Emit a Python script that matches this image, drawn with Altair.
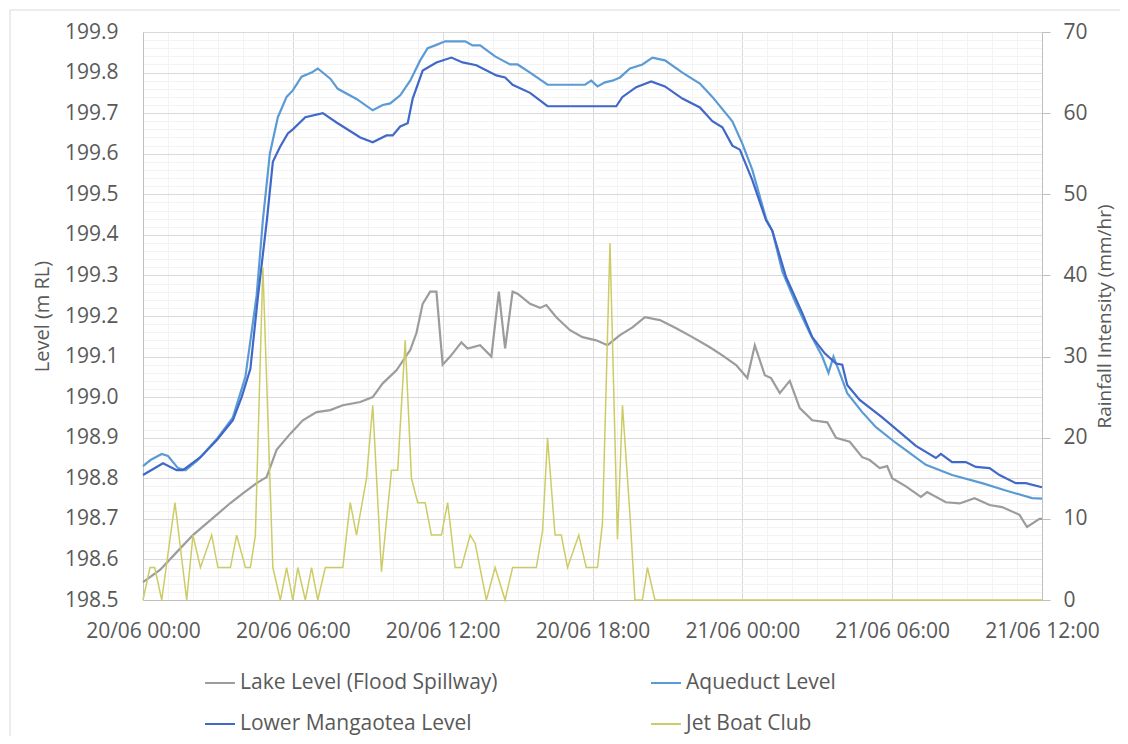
import altair as alt
import pandas as pd

# ---------------- data (hours since 20/06 00:00) ----------------
SERIES = ["Lake Level (Flood Spillway)", "Lower Mangaotea Level", "Aqueduct Level", "Jet Boat Club"]
COLORS = ["#9c9c9c", "#4068c8", "#5b9bd5", "#cccc66"]

X_LABELS = ["20/06 00:00", "20/06 06:00", "20/06 12:00", "20/06 18:00",
            "21/06 00:00", "21/06 06:00", "21/06 12:00"]

aq_t = [0, 0.3, 0.75, 1.0, 1.4, 1.7, 2.2, 3.0, 3.6, 4.1, 4.55, 4.8, 5.08, 5.4, 5.75, 6.0, 6.35,
        6.75, 7.0, 7.5, 7.8, 8.55, 9.2, 9.6, 9.9, 10.3, 10.7, 11.1, 11.4, 11.7, 12.1, 12.9, 13.2,
        13.5, 14.1, 14.7, 15.0, 15.5, 16.2, 17.7, 17.95, 18.2, 18.5, 18.8, 19.1, 19.5, 20.0, 20.4,
        20.9, 21.6, 22.3, 22.8, 23.6, 24.0, 24.4, 24.95, 25.2, 25.6, 26.15, 26.7, 27.2, 27.45,
        27.65, 27.9, 28.2, 28.8, 29.35, 30.15, 31.35, 32.4, 33.6, 34.55, 35.6, 36.0]
aq_v = [198.83, 198.845, 198.86, 198.855, 198.825, 198.82, 198.845, 198.90, 198.95, 199.05,
        199.25, 199.436, 199.60, 199.69, 199.74, 199.756, 199.79, 199.80, 199.81, 199.785, 199.76,
        199.735, 199.707, 199.72, 199.724, 199.744, 199.78, 199.83, 199.86, 199.867, 199.877,
        199.877, 199.867, 199.867, 199.84, 199.82, 199.82, 199.80, 199.77, 199.77, 199.78, 199.766,
        199.776, 199.78, 199.788, 199.81, 199.82, 199.837, 199.83, 199.80, 199.773, 199.74, 199.68,
        199.625, 199.56, 199.44, 199.41, 199.31, 199.23, 199.158, 199.10, 199.06, 199.10, 199.06,
        199.01, 198.963, 198.926, 198.887, 198.833, 198.808, 198.788, 198.77, 198.751, 198.75]

lm_t = [0, 0.8, 1.35, 1.6, 2.3, 2.95, 3.6, 3.95, 4.3, 4.6, 4.96, 5.2, 5.48, 5.8, 6.0, 6.5, 7.2,
        7.75, 8.7, 9.2, 9.75, 10.0, 10.3, 10.6, 10.8, 11.2, 11.75, 12.35, 12.8, 13.35, 14.15, 14.5,
        14.8, 15.5, 16.2, 18.95, 19.2, 19.75, 20.35, 20.9, 21.6, 22.3, 22.8, 23.2, 23.6, 23.9, 24.4,
        24.95, 25.2, 25.75, 26.4, 26.8, 27.3, 27.75, 28.0, 28.2, 28.7, 29.6, 30.3, 30.95, 31.75,
        31.95, 32.4, 32.95, 33.35, 33.9, 34.3, 34.95, 35.35, 36.0]
lm_v = [198.808, 198.837, 198.82, 198.82, 198.852, 198.894, 198.943, 199.0, 199.07, 199.246,
        199.436, 199.58, 199.616, 199.65, 199.66, 199.69, 199.70, 199.677, 199.64, 199.628, 199.645,
        199.645, 199.667, 199.675, 199.736, 199.805, 199.825, 199.837, 199.825, 199.818, 199.793,
        199.788, 199.77, 199.75, 199.717, 199.717, 199.74, 199.764, 199.778, 199.766, 199.736,
        199.714, 199.68, 199.665, 199.62, 199.61, 199.535, 199.436, 199.41, 199.296, 199.207,
        199.148, 199.108, 199.083, 199.08, 199.03, 198.993, 198.95, 198.914, 198.88, 198.85, 198.86,
        198.84, 198.84, 198.828, 198.825, 198.808, 198.788, 198.788, 198.778]

lk_t = [0, 0.68, 1.35, 2.0, 2.7, 3.5, 4.0, 4.55, 4.95, 5.35, 5.9, 6.4, 6.95, 7.5, 8.0, 8.7, 9.2,
        9.6, 10.15, 10.7, 10.95, 11.2, 11.5, 11.75, 12.0, 12.3, 12.75, 13.0, 13.5, 13.95, 14.25,
        14.5, 14.8, 15.0, 15.5, 15.9, 16.15, 16.55, 17.1, 17.6, 18.15, 18.6, 19.1, 19.6, 20.1, 20.7,
        21.35, 22.0, 22.7, 23.2, 23.75, 24.2, 24.5, 24.9, 25.15, 25.5, 25.9, 26.3, 26.8, 27.4,
        27.75, 28.3, 28.8, 29.1, 29.5, 29.8, 30.0, 30.55, 31.15, 31.4, 32.15, 32.7, 33.3, 33.9,
        34.4, 35.1, 35.4, 35.9, 36.0]
lk_v = [198.544, 198.574, 198.618, 198.66, 198.697, 198.739, 198.763, 198.788, 198.803, 198.87,
        198.91, 198.943, 198.963, 198.968, 198.98, 198.988, 199.0, 199.034, 199.066, 199.116,
        199.158, 199.23, 199.26, 199.26, 199.08, 199.10, 199.135, 199.12, 199.128, 199.10, 199.26,
        199.12, 199.26, 199.255, 199.23, 199.22, 199.227, 199.197, 199.165, 199.148, 199.14,
        199.128, 199.153, 199.172, 199.197, 199.19, 199.17, 199.148, 199.123, 199.103, 199.079,
        199.047, 199.128, 199.054, 199.047, 199.01, 199.04, 198.973, 198.943, 198.938, 198.90,
        198.89, 198.852, 198.845, 198.825, 198.83, 198.80, 198.78, 198.754, 198.766, 198.741,
        198.738, 198.751, 198.734, 198.729, 198.71, 198.68, 198.70, 198.70]

rain_t = [0, 0.28, 0.47, 0.75, 1.28, 1.75, 2.0, 2.3, 2.75, 3.0, 3.5, 3.75, 4.1, 4.3, 4.5, 4.8,
          5.2, 5.5, 5.75, 6.0, 6.2, 6.5, 6.75, 7.0, 7.3, 8.0, 8.3, 8.55, 8.95, 9.2, 9.55, 9.95,
          10.2, 10.5, 10.75, 11.0, 11.3, 11.55, 11.95, 12.2, 12.5, 12.75, 13.1, 13.3, 13.75, 14.1,
          14.5, 14.8, 15.75, 16.0, 16.2, 16.5, 16.75, 17.0, 17.45, 17.75, 18.2, 18.4, 18.7, 19.0,
          19.2, 19.5, 19.7, 20.0, 20.2, 20.5, 36.0]
rain_v = [0, 4, 4, 0, 12, 0, 8, 4, 8, 4, 4, 8, 4, 4, 8, 41, 4, 0, 4, 0, 4, 0, 4, 0, 4, 4, 12, 8,
          15, 24, 3.5, 16, 16, 32, 15, 12, 12, 8, 8, 12, 4, 4, 8, 7, 0, 4, 0, 4, 4, 8.5, 20, 8, 8,
          4, 8, 4, 4, 9.5, 44, 7.5, 24, 10.5, 0, 0, 4, 0, 0]

level_df = pd.concat([
    pd.DataFrame({"t": lk_t, "value": lk_v, "series": "Lake Level (Flood Spillway)"}),
    pd.DataFrame({"t": aq_t, "value": aq_v, "series": "Aqueduct Level"}),
    pd.DataFrame({"t": lm_t, "value": lm_v, "series": "Lower Mangaotea Level"}),
], ignore_index=True)
rain_df = pd.DataFrame({"t": rain_t, "value": rain_v, "series": "Jet Boat Club"})

# ---------------- styling ----------------
TXT = "#595959"
FONT = "Open Sans"
major_y = "abs(datum.value*10 - round(datum.value*10)) < 0.001"
label_arr = "[" + ",".join("'%s'" % s for s in X_LABELS) + "]"

x_enc = alt.X(
    "t:Q",
    scale=alt.Scale(domain=[0, 36], nice=False, zero=False),
    axis=alt.Axis(
        values=list(range(0, 37)),
        labelExpr="datum.value % 6 == 0 ? " + label_arr + "[datum.value/6] : ''",
        title=None, grid=True,
        gridColor={"condition": {"test": "datum.value % 6 == 0", "value": "#d9d9d9"}, "value": "#f3f3f3"},
        ticks=False, tickSize=0, domainColor="#bfbfbf", labelPadding=20,
        labelOverlap=False, labelFlush=False, labelFontSize=21, labelColor=TXT, labelFont=FONT,
    ),
)

color_enc = alt.Color(
    "series:N",
    scale=alt.Scale(domain=SERIES, range=COLORS),
    legend=alt.Legend(
        title=None, orient="none", legendX=61, legendY=635, columns=2, columnPadding=149,
        rowPadding=15, symbolType="stroke", symbolSize=900, symbolStrokeWidth=2,
        labelOffset=4, labelFontSize=21, labelColor=TXT, labelFont=FONT, labelLimit=0,
    ),
)

y_vals = [round(198.5 + 0.02 * i, 2) for i in range(71)]

levels = alt.Chart(level_df).mark_line(strokeWidth=2.2).encode(
    x=x_enc,
    y=alt.Y(
        "value:Q",
        scale=alt.Scale(domain=[198.5, 199.9], nice=False, zero=False),
        axis=alt.Axis(
            orient="left", values=y_vals,
            labelExpr=major_y + " ? format(datum.value, '.1f') : ''",
            grid=True,
            gridColor={"condition": {"test": major_y, "value": "#d9d9d9"}, "value": "#f3f3f3"},
            ticks=False, tickSize=0, domainColor="#bfbfbf", labelPadding=25,
            labelOverlap=False, labelFontSize=21, labelColor=TXT, labelFont=FONT,
            title="Level (m RL)", titleFontSize=20, titleFontWeight="normal",
            titleColor=TXT, titleFont=FONT, titlePadding=12,
        ),
    ),
    color=color_enc,
    detail="series:N",
)

rain = alt.Chart(rain_df).mark_line(strokeWidth=1.5).encode(
    x=x_enc,
    y=alt.Y(
        "value:Q",
        scale=alt.Scale(domain=[0, 70], nice=False),
        axis=alt.Axis(
            orient="right", values=list(range(0, 71, 10)), grid=False,
            ticks=True, tickSize=8, tickColor="#bfbfbf", domainColor="#bfbfbf",
            labelPadding=13, labelFontSize=21, labelColor=TXT, labelFont=FONT,
            title="Rainfall Intensity (mm/hr)", titleFontSize=19, titleFontWeight="normal",
            titleColor=TXT, titleFont=FONT, titleAngle=270, titleBaseline="top",
            titlePadding=8,
        ),
    ),
    color=color_enc,
)

frame = alt.Chart(pd.DataFrame({"a": [0]})).mark_rect(
    fill="transparent", stroke="#d9d9d9", strokeWidth=1
).encode(x=alt.value(-133), x2=alt.value(1100), y=alt.value(-22), y2=alt.value(900))

chart = alt.layer(frame, levels, rain).resolve_scale(y="independent").properties(
    width=899, height=568,
    autosize=alt.AutoSizeParams(type="none"),
    padding={"left": 135, "top": 24, "right": 78, "bottom": 136},
).configure(font=FONT).configure_view(strokeOpacity=0)

chart.save("out.html", embed_options={"renderer": "svg", "actions": False})
